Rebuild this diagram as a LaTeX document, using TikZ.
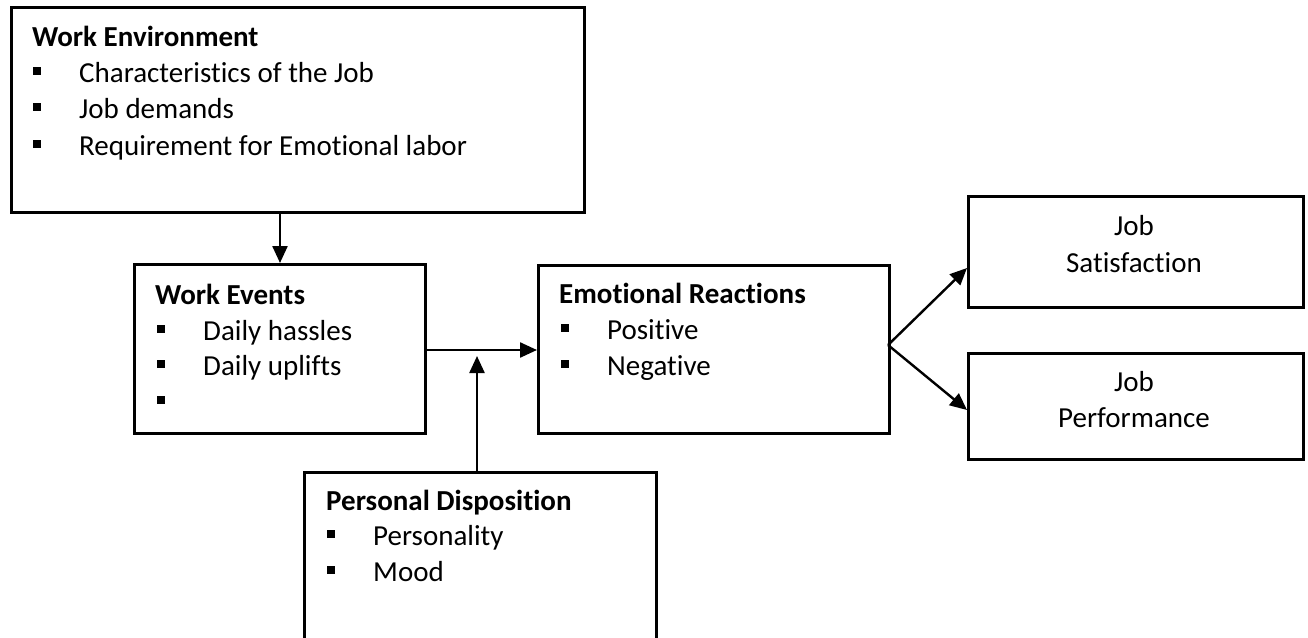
\documentclass[tikz,border=0pt]{standalone}
\usepackage{fontspec}
\setmainfont[Ligatures=NoCommon]{Carlito}
\usetikzlibrary{arrows.meta}
\begin{document}
\begin{tikzpicture}[x=1pt,y=-1pt,
  box/.style={draw, line width=2.8pt, rectangle, inner sep=0pt, anchor=north west},
  arr/.style={line width=2.4pt, -{Triangle[length=17pt,width=15pt]}},
  txt/.style={anchor=base west, inner sep=0pt, font=\fontsize{29}{35}\selectfont},
  ttl/.style={anchor=base west, inner sep=0pt, font=\fontsize{29}{35}\selectfont\bfseries},
  ctr/.style={anchor=base, inner sep=0pt, font=\fontsize{29}{35}\selectfont},
  bul/.style={anchor=base west, inner sep=0pt}
]
\useasboundingbox (0,0) rectangle (1308,637);
\clip (0,0) rectangle (1308,637);
\newcommand{\bsq}{\rule[7pt]{8pt}{8pt}}

% Work Environment
\node[box, minimum width=573pt, minimum height=205pt] (we) at (10,6) {};
\node[ttl] (wet) at (32,46) {Work Environment};
\node[bul] (web1) at (33,82) {\bsq};
\node[txt] (wel1) at (79,82) {Characteristics of the Job};
\node[bul] (web2) at (33,118) {\bsq};
\node[txt] (wel2) at (79,118) {Job demands};
\node[bul] (web3) at (33,155) {\bsq};
\node[txt] (wel3) at (79,155) {Requirement for Emotional labor};

% Work Events
\node[box, minimum width=291pt, minimum height=169pt] (wev) at (133,263) {};
\node[ttl] (wevt) at (155,304) {Work Events};
\node[bul] (wevb1) at (157,340) {\bsq};
\node[txt] (wevl1) at (203,340) {Daily hassles};
\node[bul] (wevb2) at (157,375) {\bsq};
\node[txt] (wevl2) at (203,375) {Daily uplifts};
\node[bul] (wevb3) at (157,411) {\bsq};

% Emotional Reactions
\node[box, minimum width=351pt, minimum height=168pt] (er) at (537,264) {};
\node[ttl] (ert) at (559,303) {Emotional Reactions};
\node[bul] (erb1) at (561,339) {\bsq};
\node[txt] (erl1) at (607,339) {Positive};
\node[bul] (erb2) at (561,375) {\bsq};
\node[txt] (erl2) at (607,375) {Negative};

% Personal Disposition
\node[box, minimum width=352pt, minimum height=200pt] (pd) at (303,471) {};
\node[ttl] (pdt) at (326,510) {Personal Disposition};
\node[bul] (pdb1) at (327,545) {\bsq};
\node[txt] (pdl1) at (373,545) {Personality};
\node[bul] (pdb2) at (327,581) {\bsq};
\node[txt] (pdl2) at (373,581) {Mood};

% Job Satisfaction / Performance
\node[box, minimum width=335pt, minimum height=111pt] (js) at (967,195) {};
\node[ctr] (jsl1) at (1134,235) {Job};
\node[ctr] (jsl2) at (1134,272) {Satisfaction};
\node[box, minimum width=335pt, minimum height=106pt] (jp) at (967,352) {};
\node[ctr] (jpl1) at (1134,391) {Job};
\node[ctr] (jpl2) at (1134,427) {Performance};

% connectors
\coordinate (wetop) at (280,211);
\coordinate (pdtip) at (477,356);
\coordinate (erout) at (888,345);
\coordinate (jstip) at (967,268);
\coordinate (jptip) at (967,410);
\draw[arr] (wetop) -- (wetop |- wev.north);
\draw[arr] (wev.east |- 0,350) -- (er.west |- 0,350);
\draw[arr] (pdtip |- pd.north) -- (pdtip);
\draw[arr] (erout) -- (jstip);
\draw[arr] (erout) -- (jptip);
\end{tikzpicture}
\end{document}
